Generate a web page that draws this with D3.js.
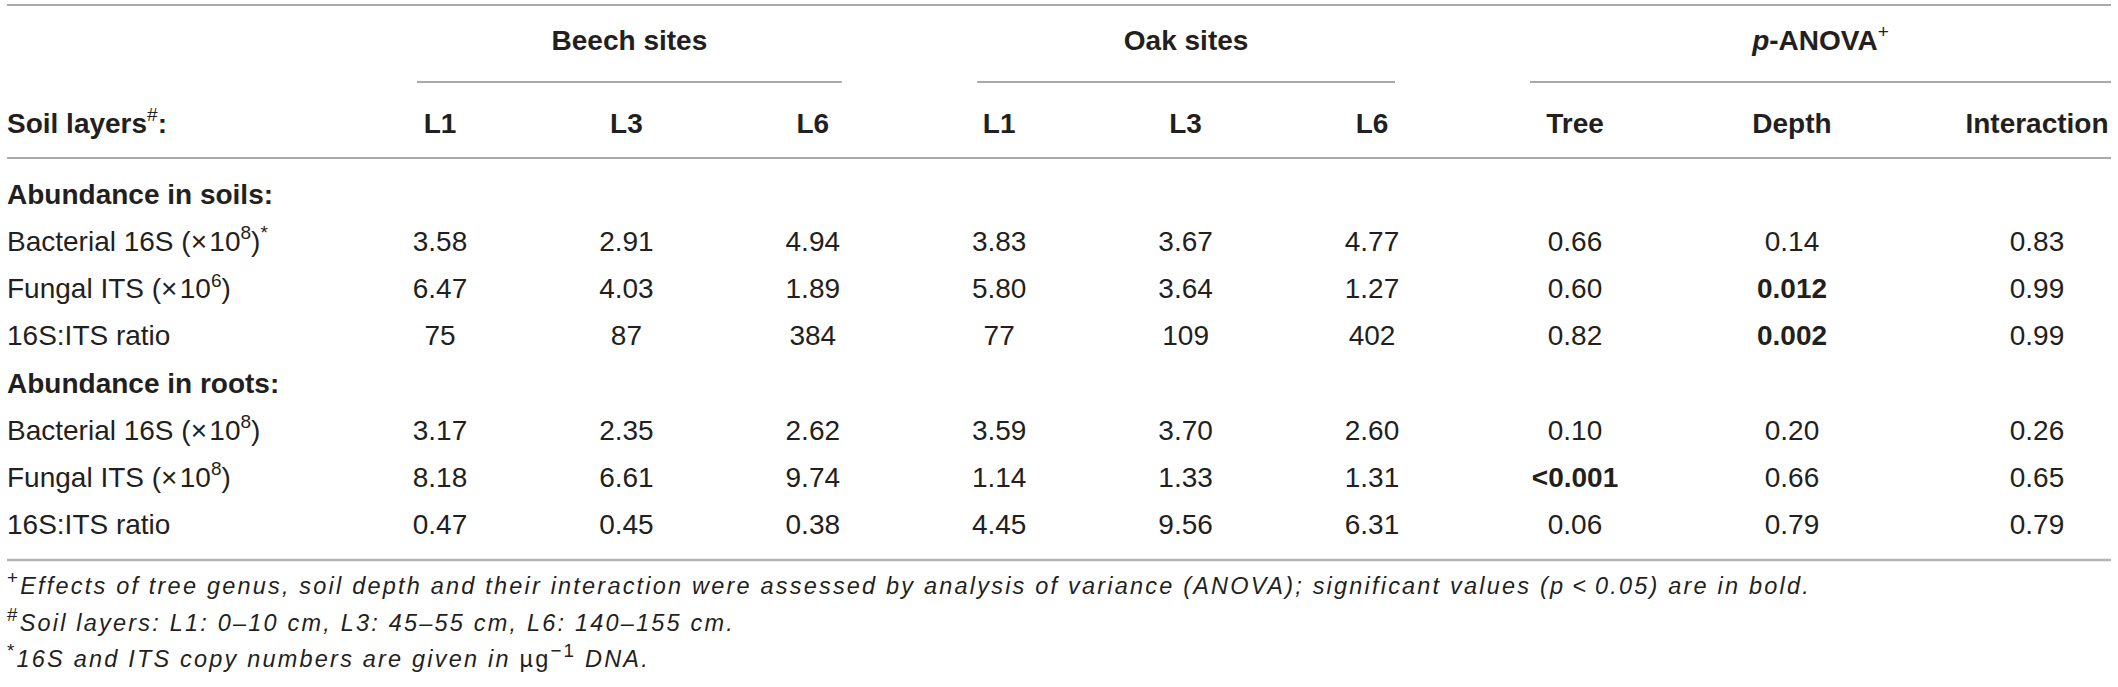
<!DOCTYPE html>
<html>
<head>
<meta charset="utf-8">
<script src="https://cdn.jsdelivr.net/npm/d3@7"></script>
<style>
  html, body { margin: 0; padding: 0; background: #fff; }
  svg text { font-family: "Liberation Sans", Arial, Helvetica, sans-serif; fill: #231f20; }
</style>
</head>
<body>
<div id="table"></div>
<script>
// Table content
var groups      = ["Beech sites", "Oak sites", "_{p}-ANOVA^{+}"],
    layers      = ["L1", "L3", "L6"],
    anovaCols   = ["Tree", "Depth", "Interaction"],
    headLabel   = "Soil layers^{#}:",
    sections    = ["Abundance in soils:", "Abundance in roots:"];

var soilLabels  = ["Bacterial 16S (\u00d7\u200a10^{8})^{*}", "Fungal ITS (\u00d7\u200a10^{6})", "16S:ITS ratio"],
    rootLabels  = ["Bacterial 16S (\u00d7\u200a10^{8})", "Fungal ITS (\u00d7\u200a10^{8})", "16S:ITS ratio"];

var beechSoil   = [["3.58", "2.91", "4.94"], ["6.47", "4.03", "1.89"], ["75", "87", "384"]],
    oakSoil     = [["3.83", "3.67", "4.77"], ["5.80", "3.64", "1.27"], ["77", "109", "402"]],
    anovaSoil   = [["0.66", "0.14", "0.83"], ["0.60", "0.012", "0.99"], ["0.82", "0.002", "0.99"]];

var beechRoot   = [["3.17", "2.35", "2.62"], ["8.18", "6.61", "9.74"], ["0.47", "0.45", "0.38"]],
    oakRoot     = [["3.59", "3.70", "2.60"], ["1.14", "1.33", "1.31"], ["4.45", "9.56", "6.31"]],
    anovaRoot   = [["0.10", "0.20", "0.26"], ["<0.001", "0.66", "0.65"], ["0.06", "0.79", "0.79"]];

var footnotes   = [
  "^{+}_{Effects of tree genus, soil depth and their interaction were assessed by analysis of variance (ANOVA); significant values (p\u2009<\u20090.05) are in bold.}",
  "^{#}_{Soil layers: L1: 0\u201310 cm, L3: 45\u201355 cm, L6: 140\u2013155 cm.}",
  "^{*}_{16S and ITS copy numbers are given in }\u00b5g^{\u22121}_{ DNA.}"
];

// ---- layout ----
var width = 2118, height = 687,
    fs = 28, fnSize = 23.5,
    left = 7, right = 2111;

var svg = d3.select("#table").append("svg")
    .attr("width", width)
    .attr("height", height)
    .attr("viewBox", "0 0 " + width + " " + height);

svg.append("rect").attr("width", width).attr("height", height).attr("fill", "#fff");

// column scales: six site columns evenly spaced, ANOVA columns sized by header
var siteKeys = [];
["b", "o"].forEach(function(g) { layers.forEach(function(l) { siteKeys.push(g + l); }); });
var xSite  = d3.scalePoint().domain(siteKeys).range([440, 1372]);
var xAnova = d3.scaleOrdinal().domain(anovaCols).range([1575, 1792, 2037]);

// rows: section heading + three rows, twice
var rowKeys = d3.range(8);
var yRow = d3.scalePoint().domain(rowKeys).range([204, 534]);
var yGroup = 50, yHead = 133;

// rich text: ^{..} superscript, _{..} italic
function rich(sel, str, size, supScale) {
  var re = /(\^\{[^}]*\}|_\{[^}]*\})/g, parts = str.split(re), shift = 0;
  supScale = supScale || 0.68;
  parts.forEach(function(p) {
    if (!p) return;
    var t = sel.append("tspan");
    if (p[0] == "^" && p[1] == "{") {
      t.text(p.slice(2, -1)).attr("font-size", size * supScale).attr("font-weight", "normal")
       .attr("dy", -size * 0.42);
      shift = size * 0.42;
    } else {
      if (p[0] == "_" && p[1] == "{") { t.text(p.slice(2, -1)).attr("font-style", "italic"); }
      else t.text(p);
      if (shift) { t.attr("dy", shift); shift = 0; }
    }
  });
  return sel;
}

function line(x1, x2, y, color, w) {
  svg.append("line")
     .attr("x1", x1).attr("x2", x2).attr("y1", y).attr("y2", y)
     .attr("stroke", color).attr("stroke-width", w);
}

// rules
line(left, right, 5, "#8c8c8c", 1.6);
line(left, right, 158, "#8c8c8c", 1.6);
line(left, right, 560, "#b3b3b3", 2.6);

// group titles + underlines
var spans = [
  [xSite("bL1") - 23, xSite("bL6") + 29],
  [xSite("oL1") - 22, xSite("oL6") + 23],
  [xAnova("Tree") - 45, right]
];
groups.forEach(function(g, i) {
  var cx = (spans[i][0] + spans[i][1]) / 2;
  rich(svg.append("text").attr("x", cx).attr("y", yGroup)
          .attr("text-anchor", "middle").attr("font-size", fs).attr("font-weight", "bold"), g, fs);
  line(spans[i][0], spans[i][1], 82, "#8c8c8c", 1.6);
});

// header row
rich(svg.append("text").attr("x", left).attr("y", yHead)
        .attr("font-size", fs).attr("font-weight", "bold"), headLabel, fs);
siteKeys.forEach(function(k) {
  svg.append("text").attr("x", xSite(k)).attr("y", yHead)
     .attr("text-anchor", "middle").attr("font-size", fs).attr("font-weight", "bold")
     .text(k.slice(1));
});
anovaCols.forEach(function(c) {
  svg.append("text").attr("x", xAnova(c)).attr("y", yHead)
     .attr("text-anchor", "middle").attr("font-size", fs).attr("font-weight", "bold")
     .text(c);
});

// body
var blocks = [
  {title: sections[0], labels: soilLabels, beech: beechSoil, oak: oakSoil, anova: anovaSoil},
  {title: sections[1], labels: rootLabels, beech: beechRoot, oak: oakRoot, anova: anovaRoot}
];

blocks.forEach(function(b, bi) {
  var base = bi * 4;
  svg.append("text").attr("x", left).attr("y", yRow(base))
     .attr("font-size", fs).attr("font-weight", "bold").text(b.title);

  b.labels.forEach(function(lab, ri) {
    var y = yRow(base + ri + 1);
    rich(svg.append("text").attr("x", left).attr("y", y).attr("font-size", fs), lab, fs);

    var cells = [];
    layers.forEach(function(l, ci) { cells.push({x: xSite("b" + l), v: b.beech[ri][ci], p: false}); });
    layers.forEach(function(l, ci) { cells.push({x: xSite("o" + l), v: b.oak[ri][ci], p: false}); });
    anovaCols.forEach(function(c, ci) { cells.push({x: xAnova(c), v: b.anova[ri][ci], p: true}); });

    svg.append("g").selectAll("text")
       .data(cells)
       .enter()
       .append("text")
         .attr("x", function(d) { return d.x; })
         .attr("y", y)
         .attr("text-anchor", "middle")
         .attr("font-size", fs)
         // significant p-values (p < 0.05) in bold
         .attr("font-weight", function(d) { return d.p && +d.v.replace("<", "") < 0.05 ? "bold" : "normal"; })
         .text(function(d) { return d.v; });
  });
});

// footnotes
var fnY = [594, 631, 667];
footnotes.forEach(function(f, i) {
  rich(svg.append("text").attr("x", left).attr("y", fnY[i])
          .attr("font-size", fnSize).attr("letter-spacing", 2.2), f, fnSize, 0.8);
});
</script>
</body>
</html>
